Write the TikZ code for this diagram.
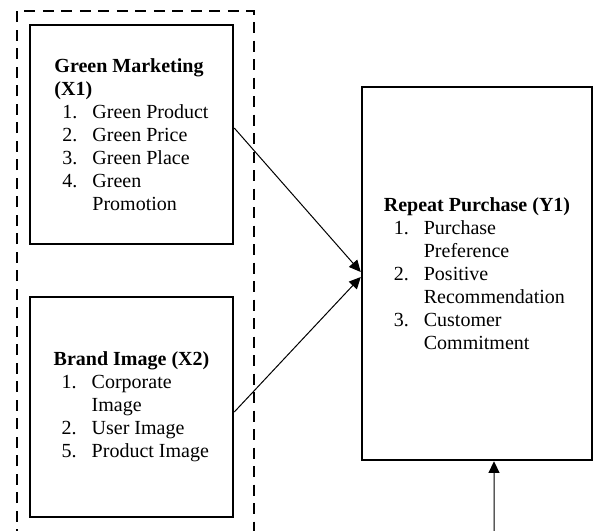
\documentclass[tikz,border=0pt]{standalone}
\usepackage{fontspec}
\setmainfont{Liberation Serif}
\usetikzlibrary{arrows.meta}

\newcommand{\itemline}[3]{\hspace*{#1}\makebox[18pt][l]{#2}#3}

\tikzset{
  varbox/.style={draw, line width=1.5pt, align=left, inner sep=0pt,
    font=\fontsize{12pt}{13.8pt}\selectfont},
  grouped/.style={line width=1.5pt, dash pattern=on 6.6pt off 4.5pt},
  link/.style={line width=0.6pt, -{Triangle[length=7pt,width=6.6pt]}}
}

\begin{document}
\begin{tikzpicture}[x=0.6pt, y=-0.6pt]
            \useasboundingbox (0,0) rectangle (595,530);

            % Dashed frame around the independent variables
            \draw[grouped] (17,540) -- (17,11) -- (254,11) -- (254,540);

            % Green marketing (X1)
            \node[varbox, minimum width=121.8pt, minimum height=131.4pt] (gm) at (131.5,134.5)
              {\textbf{Green Marketing}\\
               \textbf{(X1)}\\
               \itemline{4.8pt}{1.}{Green Product}\\
               \itemline{4.8pt}{2.}{Green Price}\\
               \itemline{4.8pt}{3.}{Green Place}\\
               \itemline{4.8pt}{4.}{Green}\\
               \itemline{4.8pt}{}{Promotion}};

            % Brand image (X2)
            \node[varbox, minimum width=121.8pt, minimum height=132pt] (bi) at (131.5,407)
              {\textbf{Brand Image (X2)}\\
               \itemline{4.8pt}{1.}{Corporate}\\
               \itemline{4.8pt}{}{Image}\\
               \itemline{4.8pt}{2.}{User Image}\\
               \itemline{4.8pt}{5.}{Product Image}};

            % Repeat purchase (Y1)
            \node[varbox, minimum width=138pt, minimum height=223.8pt] (rp) at (477,273.5)
              {\textbf{Repeat Purchase (Y1)}\\
               \itemline{6pt}{1.}{Purchase}\\
               \itemline{6pt}{}{Preference}\\
               \itemline{6pt}{2.}{Positive}\\
               \itemline{6pt}{}{Recommendation}\\
               \itemline{6pt}{3.}{Customer}\\
               \itemline{6pt}{}{Commitment}};

            % Effects on repeat purchase
            \draw[link] ([yshift=3.9pt]gm.east) -- ([yshift=0.9pt]rp.west);
            \draw[link] ([yshift=-3pt]bi.east) -- ([yshift=-2.1pt]rp.west);

            % Incoming arrow from below
            \coordinate (below) at (494,535);
            \draw[link] (below) -- ([xshift=10.2pt]rp.south);
\end{tikzpicture}
\end{document}
